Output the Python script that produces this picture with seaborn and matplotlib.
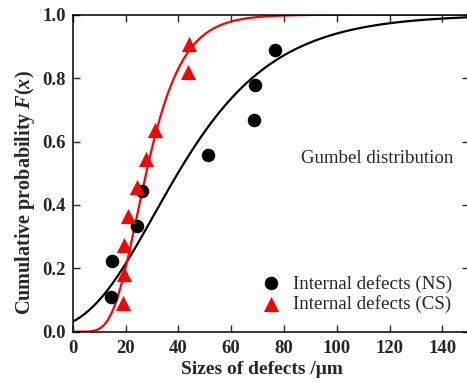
import numpy as np
import pandas as pd
import matplotlib
matplotlib.use("Agg")
import matplotlib.pyplot as plt
import seaborn as sns

# ---- data ----
ns_size = [14.5, 14.8, 24.5, 26.4, 51.1, 68.7, 69.1, 76.6]
ns_prob = [0.111, 0.222, 0.333, 0.444, 0.556, 0.667, 0.778, 0.889]
cs_size = [18.9, 19.6, 19.4, 20.8, 24.2, 27.8, 31.2, 43.8, 44.0]
cs_prob = [0.091, 0.182, 0.273, 0.364, 0.455, 0.545, 0.636, 0.818, 0.909]
# fitted Gumbel parameters (location, scale)
ns_mu, ns_beta = 30.75, 24.8
cs_mu, cs_beta = 24.4, 9.3
x_ticks = [0, 20, 40, 60, 80, 100, 120, 140]
y_ticks = [0.0, 0.2, 0.4, 0.6, 0.8, 1.0]
labels = ["Internal defects (NS)", "Internal defects (CS)"]

sns.set_style("ticks")
plt.rcParams["font.family"] = ["Liberation Serif", "DejaVu Serif"]
plt.rcParams["mathtext.fontset"] = "custom"
plt.rcParams["mathtext.rm"] = "Liberation Serif:bold"
plt.rcParams["mathtext.it"] = "Liberation Serif:bold:italic"
plt.rcParams["mathtext.bf"] = "Liberation Serif:bold"

fig = plt.figure(figsize=(4.67, 3.83), dpi=100)
ax = fig.add_axes([72.7 / 467, 51.3 / 383, 396 / 467, 317 / 383])

xs = np.linspace(0, 150, 600)
def gumbel(x, mu, beta):
    return np.exp(-np.exp(-(x - mu) / beta))

curve = pd.DataFrame({
    "x": np.concatenate([xs, xs]),
    "F": np.concatenate([gumbel(xs, ns_mu, ns_beta), gumbel(xs, cs_mu, cs_beta)]),
    "s": ["NS"] * len(xs) + ["CS"] * len(xs),
})
sns.lineplot(data=curve, x="x", y="F", hue="s", palette={"NS": "black", "CS": "red"},
             lw=1.6, legend=False, ax=ax, zorder=2)

pts_ns = pd.DataFrame({"x": ns_size, "F": ns_prob})
pts_cs = pd.DataFrame({"x": cs_size, "F": cs_prob})
sns.scatterplot(data=pts_ns, x="x", y="F", color="black", marker="o", s=95,
                edgecolor="black", linewidth=0, ax=ax, label=labels[0], zorder=3)
sns.scatterplot(data=pts_cs, x="x", y="F", color="red", marker="^", s=120,
                edgecolor="red", linewidth=0, ax=ax, label=labels[1], zorder=3)

ax.set_xlim(0, 150)
ax.set_ylim(0, 1.0)
ax.set_xticks(x_ticks)
ax.set_yticks(y_ticks)
ax.set_xticklabels([str(t) for t in x_ticks], fontsize=13.5, fontweight="bold")
ax.set_yticklabels([f"{t:.1f}" for t in y_ticks], fontsize=13.5, fontweight="bold")
ax.tick_params(direction="in", length=5, width=1, top=True, right=True)
ax.tick_params(axis="x", pad=6)
ax.tick_params(axis="y", pad=5)
for sp in ax.spines.values():
    sp.set_visible(True)
    sp.set_linewidth(1.1)
    sp.set_color("black")

ax.set_xlabel("Sizes of defects /\u03bcm", fontsize=14, fontweight="bold")
ax.set_ylabel(r"Cumulative probability $F(x)$", fontsize=14.5, fontweight="bold")
ax.xaxis.label.set_va("center")
ax.yaxis.label.set_va("center")
ax.xaxis.set_label_coords(0.477, -0.118)
ax.yaxis.set_label_coords(-0.12, 0.439)

ax.text(0.77, 0.545, "Gumbel distribution", transform=ax.transAxes,
        ha="center", va="center", fontsize=13.6)

leg = ax.legend(loc="center left", bbox_to_anchor=(0.446, 0.119), frameon=False,
                fontsize=13.7, handlelength=1.5, handletextpad=0.4,
                labelspacing=0.15, borderaxespad=0)

fig.savefig("out.png", dpi=100)
